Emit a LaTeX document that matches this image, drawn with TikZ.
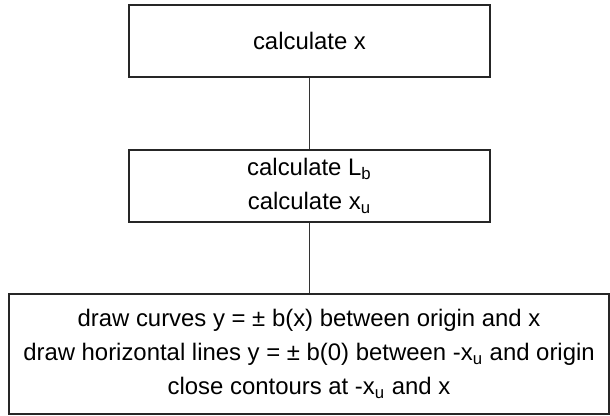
\documentclass[tikz,border=0pt]{standalone}
\usepackage{fontspec}
\setmainfont{Liberation Sans}
\begin{document}
\begin{tikzpicture}[x=0.5pt,y=-0.5pt,
  boxstyle/.style={draw=black!85, line width=0.8pt, inner sep=0pt, align=center,
    font=\fontsize{11.95}{17}\selectfont},
  linkstyle/.style={draw=black!80, line width=0.65pt}]
\useasboundingbox (0,0) rectangle (610,416);
\node[boxstyle, minimum width=180.5pt, minimum height=36pt] (b1) at (309.5,41) {calculate x};
\node[boxstyle, minimum width=180.5pt, minimum height=36pt] (b2) at (309.5,186)
  {calculate L\textsubscript{b}\\calculate x\textsubscript{u}};
\node[boxstyle, minimum width=300pt, minimum height=60pt] (b3) at (309,354)
  {draw curves y = ± b(x) between origin and x\\
   draw horizontal lines y = ± b(0) between -x\textsubscript{u} and origin\\
   close contours at -x\textsubscript{u} and x};
\draw[linkstyle] (b1.south) -- (b2.north);
\draw[linkstyle] (b2.south) -- (b2.south |- b3.north);
\end{tikzpicture}
\end{document}
